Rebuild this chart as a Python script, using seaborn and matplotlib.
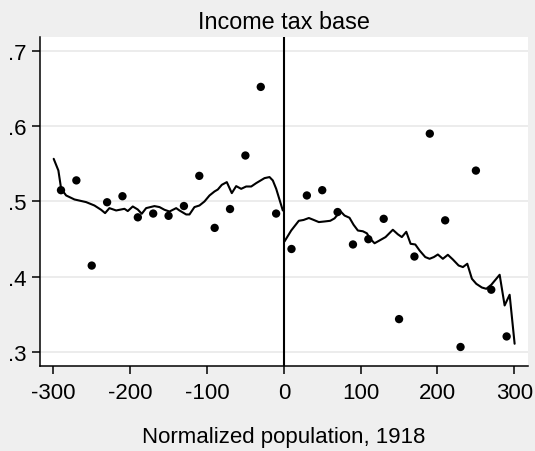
import matplotlib
matplotlib.use("Agg")
import matplotlib.pyplot as plt
import numpy as np
import pandas as pd
import seaborn as sns

# Binned means (20-unit bins of normalized population)
bin_x = [-290, -270, -250, -230, -210, -190, -170, -150, -130, -110,
         -90, -70, -50, -30, -10, 10, 30, 50, 70, 90,
         110, 130, 150, 170, 190, 210, 230, 250, 270, 290]
bin_y = [0.515, 0.528, 0.415, 0.499, 0.507, 0.479, 0.484, 0.481, 0.494, 0.534,
         0.465, 0.490, 0.561, 0.652, 0.484, 0.437, 0.508, 0.515, 0.486, 0.443,
         0.450, 0.477, 0.344, 0.427, 0.590, 0.475, 0.307, 0.541, 0.383, 0.321]

# Local fit, below the threshold
fit_left_x = [-299.5, -293.4, -289.8, -283.3, -272.5, -257.3, -246.5, -237.8, -232.6, -227.0,
              -218.2, -207.4, -203.1, -196.6, -190.1, -184.9, -179.2, -168.4, -161.8, -155.3,
              -148.8, -140.1, -135.8, -127.1, -122.8, -116.3, -109.8, -103.3, -96.7, -90.2,
              -85.9, -80.7, -74.2, -67.7, -62.0, -55.5, -49.0, -42.4, -35.9, -25.1,
              -18.6, -14.3, -9.9, -1.3]
fit_left_y = [0.5566, 0.5411, 0.5168, 0.5080, 0.5027, 0.4992, 0.4947, 0.4890, 0.4846, 0.4912,
              0.4881, 0.4903, 0.4873, 0.4934, 0.4894, 0.4837, 0.4912, 0.4939, 0.4926, 0.4890,
              0.4867, 0.4912, 0.4881, 0.4828, 0.4828, 0.4926, 0.4947, 0.5000, 0.5080, 0.5133,
              0.5159, 0.5221, 0.5257, 0.5111, 0.5204, 0.5168, 0.5199, 0.5199, 0.5244, 0.5310,
              0.5324, 0.5279, 0.5168, 0.4881]

# Local fit, above the threshold
fit_right_x = [0.9, 9.6, 19.5, 25.7, 32.6, 37.8, 45.6, 53.0, 60.4, 66.0,
               73.8, 79.0, 85.5, 90.8, 96.4, 102.9, 108.1, 112.5, 118.1, 124.6,
               132.4, 141.9, 148.4, 153.6, 159.4, 165.0, 171.1, 176.7, 184.1, 189.7,
               195.3, 200.5, 207.0, 213.5, 220.0, 227.5, 233.1, 238.8, 244.8, 250.5,
               257.8, 263.5, 270.0, 280.9, 287.4, 293.9, 300.4]
fit_right_y = [0.4470, 0.4615, 0.4744, 0.4755, 0.4781, 0.4760, 0.4727, 0.4735, 0.4744, 0.4776,
               0.4870, 0.4814, 0.4784, 0.4691, 0.4615, 0.4605, 0.4578, 0.4505, 0.4446, 0.4483,
               0.4528, 0.4625, 0.4565, 0.4528, 0.4598, 0.4439, 0.4430, 0.4350, 0.4263, 0.4240,
               0.4263, 0.4297, 0.4240, 0.4293, 0.4231, 0.4151, 0.4130, 0.4174, 0.3975, 0.3908,
               0.3859, 0.3842, 0.3895, 0.4028, 0.3621, 0.3763, 0.3113]

x_ticks = [-300, -200, -100, 0, 100, 200, 300]
y_ticks = [0.3, 0.4, 0.5, 0.6, 0.7]
y_tick_labels = [".3", ".4", ".5", ".6", ".7"]

sns.set_theme(style="white")
plt.rcParams["font.family"] = ["Liberation Sans", "DejaVu Sans"]

bg = "#efefef"
fs = 16
fig = plt.figure(figsize=(5.35, 4.52), dpi=100, facecolor=bg)
ax = fig.add_axes([0.0748, 0.1874, 0.9121, 0.7292])
ax.set_facecolor("white")

bins = pd.DataFrame({"x": bin_x, "y": bin_y})
left = pd.DataFrame({"x": fit_left_x, "y": fit_left_y})
right = pd.DataFrame({"x": fit_right_x, "y": fit_right_y})

for yt in y_ticks:
    ax.axhline(yt, color="#ebebeb", lw=1.3, zorder=0)

sns.scatterplot(data=bins, x="x", y="y", ax=ax, color="black", s=36,
                edgecolor="none", zorder=3)
sns.lineplot(data=left, x="x", y="y", ax=ax, color="black", lw=1.5,
             sort=False, zorder=2)
sns.lineplot(data=right, x="x", y="y", ax=ax, color="black", lw=1.5,
             sort=False, zorder=2)
ax.axvline(0, color="black", lw=1.5, zorder=2)

ax.set_xlim(-317.3, 317.8)
ax.set_ylim(0.2814, 0.7186)
ax.set_xticks(x_ticks)
ax.set_xticklabels([str(v) for v in x_ticks])
ax.set_yticks(y_ticks)
ax.set_yticklabels(y_tick_labels)

for side in ("top", "right"):
    ax.spines[side].set_visible(False)
for side in ("left", "bottom"):
    ax.spines[side].set_color("black")
    ax.spines[side].set_linewidth(1.1)

ax.tick_params(axis="x", which="major", direction="out", length=6,
               width=1.1, color="black", labelsize=fs, labelcolor="black",
               pad=5, bottom=True)
ax.tick_params(axis="y", which="major", direction="out", length=6,
               width=1.1, color="black", labelsize=fs, labelcolor="black",
               pad=4, left=True)

ax.set_xlabel("Normalized population, 1918", fontsize=fs, color="black",
              labelpad=17)
ax.set_ylabel("")
ax.set_title("Income tax base", fontsize=16.8, color="black", pad=6)

fig.savefig("out.png", dpi=100, facecolor=bg)
